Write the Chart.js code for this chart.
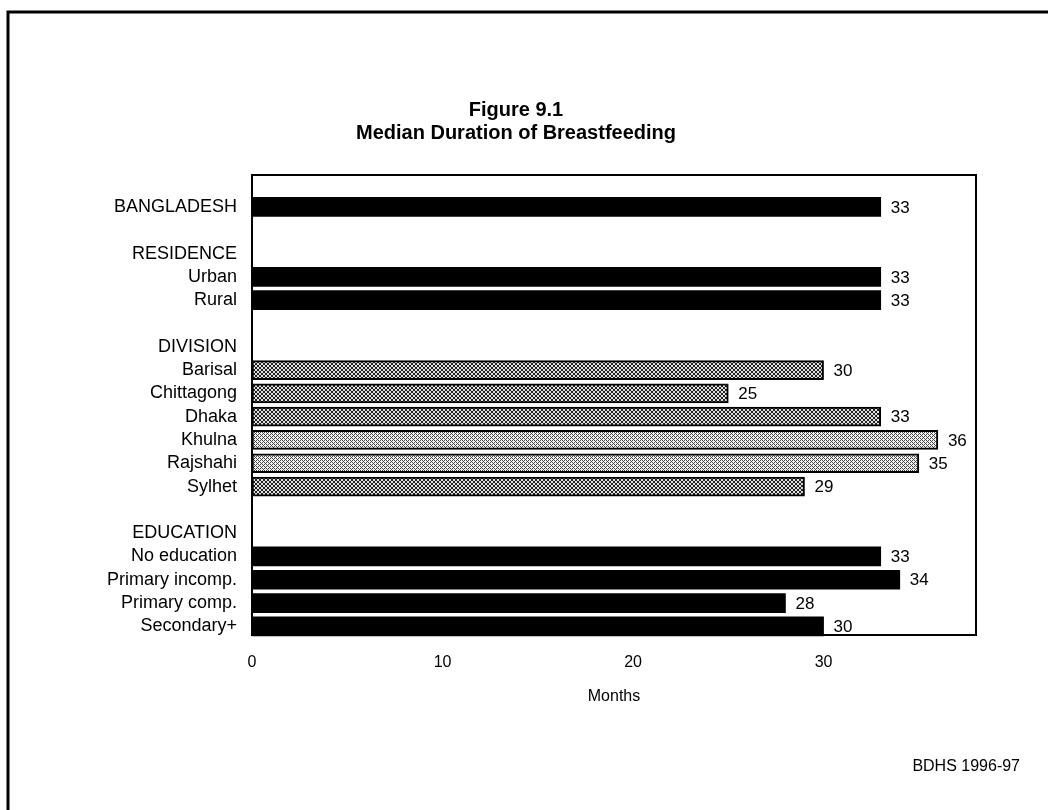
<!DOCTYPE html>
<html>
<head>
<meta charset="utf-8">
<script src="https://cdn.jsdelivr.net/npm/chart.js@4.4.1/dist/chart.umd.min.js"></script>
<style>
  html, body { margin: 0; padding: 0; background: #ffffff; }
  #wrap { width: 1048px; height: 810px; position: relative; }
</style>
</head>
<body>
<div id="wrap"><canvas id="c" width="1048" height="810"></canvas></div>
<script>
// ---- data ----
const categories = ['', 'BANGLADESH', '', 'RESIDENCE', 'Urban', 'Rural', '', 'DIVISION',
  'Barisal', 'Chittagong', 'Dhaka', 'Khulna', 'Rajshahi', 'Sylhet', '',
  'EDUCATION', 'No education', 'Primary incomp.', 'Primary comp.', 'Secondary+'];
const months = [null, 33, null, null, 33, 33, null, null,
  30, 25, 33, 36, 35, 29, null,
  null, 33, 34, 28, 30];
const groupOfRow = ['', 'total', '', '', 'residence', 'residence', '', '',
  'division', 'division', 'division', 'divisionLight', 'divisionLight', 'division', '',
  '', 'education', 'education', 'education', 'education'];
const xTicks = [0, 10, 20, 30];
const titleLines = ['Figure 9.1', 'Median Duration of Breastfeeding'];
const xAxisTitle = 'Months';
const sourceNote = 'BDHS 1996-97';

// ---- patterns ----
function makePattern(density) {
  const p = document.createElement('canvas');
  p.width = 4; p.height = 4;
  const g = p.getContext('2d');
  g.fillStyle = density === 'dark' ? '#e0e0e0' : '#f0f0f0';
  g.fillRect(0, 0, 4, 4);
  g.fillStyle = density === 'dark' ? '#222222' : '#4a4a4a';
  const pts = density === 'dark'
    ? [[0,0],[1,1],[2,2],[3,3],[3,0],[2,1],[1,2],[0,3]]
    : [[0,0],[2,2],[3,1],[1,3],[2,0],[0,2]];
  pts.forEach(([x, y]) => g.fillRect(x, y, 1, 1));
  return document.getElementById('c').getContext('2d').createPattern(p, 'repeat');
}
const darkPat = makePattern('dark');
const lightPat = makePattern('light');

const fills = groupOfRow.map(g => g === 'division' ? darkPat : (g === 'divisionLight' ? lightPat : '#000000'));
const borders = groupOfRow.map(g => (g === 'division' || g === 'divisionLight') ? 2 : 0);

const FONT = '"Liberation Sans", Arial, Helvetica, sans-serif';
// scale area (category rows) and drawn plot box
const AREA = { left: 252, top: 172, right: 976, bottom: 638 };
const BOX = { left: 252, top: 175, right: 976, bottom: 635 };

const decor = {
  id: 'decor',
  beforeDraw(chart) {
    const ctx = chart.ctx;
    ctx.save();
    ctx.fillStyle = '#ffffff';
    ctx.fillRect(0, 0, chart.width, chart.height);
    ctx.restore();
  },
  afterDatasetsDraw(chart) {
    const ctx = chart.ctx;
    const meta = chart.getDatasetMeta(0);
    ctx.save();
    ctx.fillStyle = '#000';
    ctx.font = '17px ' + FONT;
    ctx.textAlign = 'left';
    ctx.textBaseline = 'middle';
    meta.data.forEach((bar, i) => {
      const v = months[i];
      if (v === null) return;
      ctx.fillText(String(v), bar.x + 10, bar.y + 1);
    });
    ctx.restore();
  },
  afterDraw(chart) {
    const ctx = chart.ctx;
    ctx.save();
    // plot box
    ctx.strokeStyle = '#000';
    ctx.lineWidth = 2;
    ctx.strokeRect(BOX.left, BOX.top, BOX.right - BOX.left, BOX.bottom - BOX.top);
    // outer frame (top & left)
    ctx.lineWidth = 3;
    ctx.beginPath();
    ctx.moveTo(8, 810);
    ctx.lineTo(8, 12);
    ctx.lineTo(1048, 12);
    ctx.stroke();
    // title
    ctx.fillStyle = '#000';
    ctx.textAlign = 'center';
    ctx.textBaseline = 'middle';
    ctx.font = 'bold 20px ' + FONT;
    ctx.fillText(titleLines[0], 516, 110);
    ctx.fillText(titleLines[1], 516, 133);
    // axis title
    ctx.font = '16px ' + FONT;
    ctx.fillText(xAxisTitle, (BOX.left + BOX.right) / 2, 697);
    // source
    ctx.textAlign = 'right';
    ctx.fillText(sourceNote, 1020, 767);
    ctx.restore();
  }
};

new Chart(document.getElementById('c'), {
  type: 'bar',
  data: {
    labels: categories,
    datasets: [{
      data: months,
      backgroundColor: fills,
      borderColor: '#000',
      borderWidth: borders,
      borderSkipped: false,
      barThickness: 19
    }]
  },
  options: {
    indexAxis: 'y',
    responsive: false,
    animation: false,
    devicePixelRatio: 1,
    layout: { padding: { left: 0, top: AREA.top, right: 1048 - AREA.right, bottom: 0 } },
    plugins: { legend: { display: false }, tooltip: { enabled: false }, title: { display: false } },
    scales: {
      x: {
        min: 0, max: 38,
        afterFit(s) { s.height = 810 - AREA.bottom; },
        afterBuildTicks(s) { s.ticks = xTicks.map(v => ({ value: v })); },
        grid: { display: false, drawTicks: false },
        border: { display: false },
        ticks: { color: '#000', font: { family: FONT, size: 16 }, padding: 15 }
      },
      y: {
        afterFit(s) { s.width = AREA.left; },
        grid: { display: false, drawTicks: false },
        border: { display: false },
        ticks: { color: '#000', autoSkip: false, font: { family: FONT, size: 18 }, padding: 15 }
      }
    }
  },
  plugins: [decor]
});
</script>
</body>
</html>
